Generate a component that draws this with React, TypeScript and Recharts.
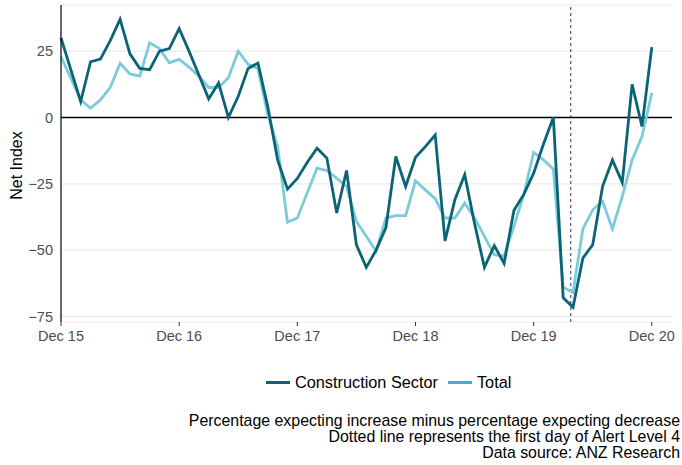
import { LineChart, Line, XAxis, YAxis, CartesianGrid, ReferenceLine, Label } from 'recharts'

// monthly, Dec 2015 .. Dec 2020
const construction = [
  30, 18, 6, 21, 22, 29, 37, 24, 18.5, 18, 25, 26,
  33.5, 25, 16, 7, 13, 0, 8, 18.5, 20.5, 4, -16, -27,
  -23, -17, -11.6, -15.3, -36, -20, -48, -56.5, -50, -41.5, -14.7, -26,
  -15, -11, -6.6, -46.5, -31, -21.6, -40, -56.5, -48.3, -55, -35, -29,
  -21, -10, 0, -68, -71.5, -53, -48, -26, -16, -24.5, 12.5, -3.4,
  26.5,
]
const total = [
  22.9, 14.8, 6.6, 3.5, 6.6, 11.3, 20.4, 16.4, 15.6, 28.1, 26, 20.6,
  21.9, 19, 15.6, 11.3, 11.3, 15, 25, 20, 18.5, 1, -11, -39.5,
  -37.9, -28.5, -19.1, -20, -22.9, -26, -39.2, -44.8, -50.4, -37.9, -37, -37,
  -23.9, -27.3, -30.6, -37.9, -37.9, -32.3, -37.9, -44.8, -51.7, -52.3, -41, -29,
  -13.2, -16, -19.5, -64, -66, -42, -34.8, -31.6, -42, -29.8, -16, -7.2,
  9.3,
]
const xTicks = [0, 12, 24, 36, 48, 60]
const xTickLabels = ['Dec 15', 'Dec 16', 'Dec 17', 'Dec 18', 'Dec 19', 'Dec 20']
const yTicks = [-75, -50, -25, 0, 25]
const alertLevel4 = 51.77 // 25 Mar 2020

const DARK = '#0B6475'
const LIGHT = '#7CCBDB'
const FONT = 'Liberation Sans, Arial, sans-serif'

const data = construction.map((v, i) => ({ m: i, construction: v, total: total[i] }))

export default function App() {
  return (
    <div style={{ position: 'relative', width: 682, height: 465, fontFamily: FONT, background: '#fff' }}>
      <style>{'body{margin:0}'}</style>
      <LineChart width={682} height={352} data={data} margin={{ top: 5, right: 10, left: 0, bottom: 0 }}>
        <CartesianGrid horizontal vertical={false} stroke="#EBEBEB" strokeWidth={1.2} />
        <XAxis
          dataKey="m" type="number" domain={[0, 62.05]} ticks={xTicks}
          tickFormatter={(v: number) => xTickLabels[xTicks.indexOf(v)]}
          axisLine={false} tickLine={{ stroke: '#333' }} tickSize={4} tickMargin={5} height={30}
          tick={{ fontSize: 14.5, fill: '#4D4D4D', fontFamily: FONT }}
        />
        <YAxis
          type="number" domain={[-77.1, 42.4]} ticks={yTicks} width={61}
          axisLine={{ stroke: '#000', strokeWidth: 1.2 }} tickLine={false} tickSize={0} tickMargin={8}
          tickFormatter={(v: number) => (v < 0 ? '\u2212' + Math.abs(v) : String(v))}
          tick={{ fontSize: 14.5, fill: '#4D4D4D', fontFamily: FONT }}
        >
          <Label
            content={({ viewBox }: any) => {
              const cy = viewBox.y + viewBox.height / 2 + 2
              return (
                <text x={16} y={cy} transform={`rotate(-90 16 ${cy})`} textAnchor="middle"
                  dominantBaseline="central" fontSize={16} fill="#000" fontFamily={FONT}>
                  Net Index
                </text>
              )
            }}
          />
        </YAxis>
        <ReferenceLine y={0} stroke="#000" strokeWidth={1.5} />
        <ReferenceLine x={alertLevel4} stroke="#2E2B6E" strokeWidth={1} strokeDasharray="3 3" />
        <Line dataKey="total" stroke={LIGHT} strokeWidth={2.8} dot={false} isAnimationActive={false} />
        <Line dataKey="construction" stroke={DARK} strokeWidth={2.8} dot={false} isAnimationActive={false} />
      </LineChart>

      <div style={{ position: 'absolute', top: 373, left: 266, display: 'flex', alignItems: 'center', fontSize: 16.3, color: '#000', lineHeight: '18px' }}>
        <span style={{ width: 24, height: 3, background: DARK, display: 'inline-block', marginRight: 5 }} />
        <span style={{ marginRight: 10 }}>Construction Sector</span>
        <span style={{ width: 24, height: 3, background: '#3FB0CE', display: 'inline-block', marginRight: 5 }} />
        <span>Total</span>
      </div>

      <div style={{ position: 'absolute', top: 413, right: 2, textAlign: 'right', fontSize: 15.9, lineHeight: '16px', color: '#000' }}>
        <div>Percentage expecting increase minus percentage expecting decrease</div>
        <div>Dotted line represents the first day of Alert Level 4</div>
        <div>Data source: ANZ Research</div>
      </div>
    </div>
  )
}
